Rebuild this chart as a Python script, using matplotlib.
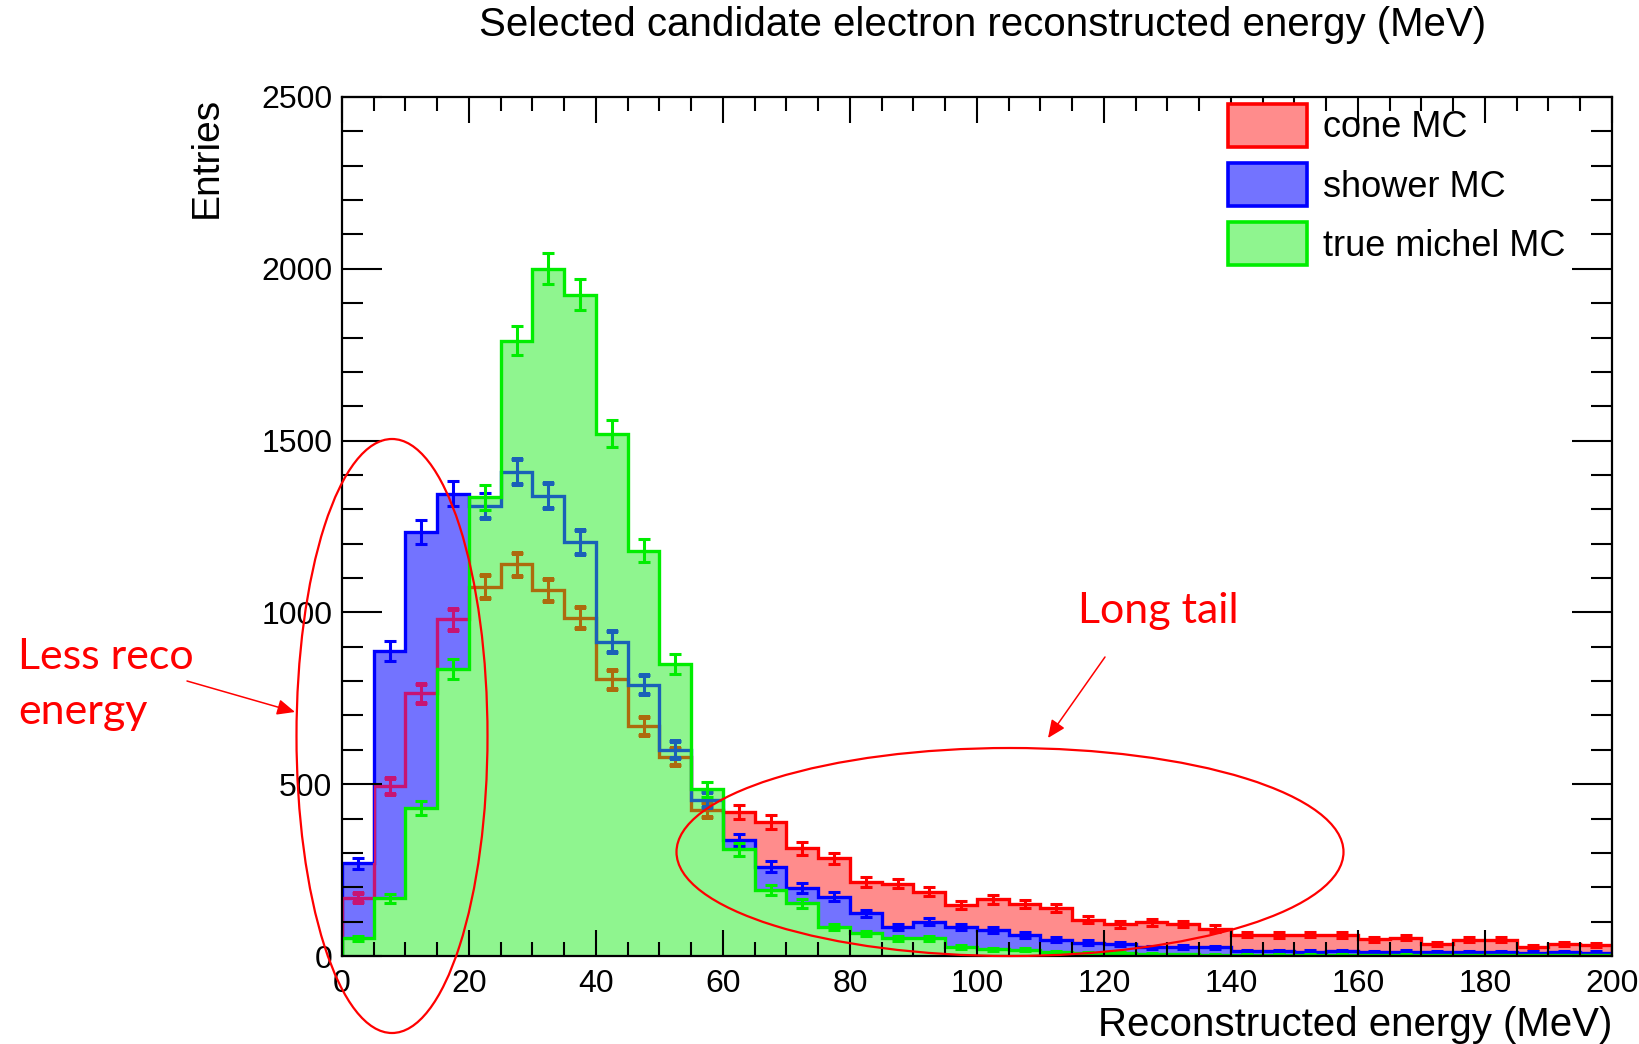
import numpy as np
import matplotlib
matplotlib.use("Agg")
import matplotlib.pyplot as plt
from matplotlib.patches import Ellipse, Patch
from matplotlib.ticker import MultipleLocator

# ---------------------------------------------------------------- data
bin_edges = np.arange(0, 205, 5)          # 40 bins of 5 MeV, 0..200 MeV

cone_mc = [170, 495, 765, 980, 1075, 1140, 1065, 985, 805, 670,
           580, 425, 420, 390, 313, 284, 216, 211, 187, 148,
           165, 151, 139, 105, 92, 98, 93, 80, 62, 61,
           62, 61, 49, 53, 34, 48, 47, 27, 36, 33]

shower_mc = [270, 888, 1235, 1345, 1310, 1410, 1340, 1205, 915, 790,
             600, 455, 338, 260, 197, 173, 124, 85, 100, 85,
             76, 61, 47, 39, 35, 25, 27, 25, 14, 15,
             13, 15, 12, 13, 11, 12, 12, 10, 11, 10]

michel_mc = [52, 168, 430, 835, 1335, 1790, 2000, 1925, 1520, 1180,
             850, 485, 310, 192, 153, 85, 66, 51, 51, 27,
             19, 18, 12, 9, 8, 6, 5, 4, 4, 3,
             3, 3, 2, 3, 2, 2, 2, 2, 2, 2]

series_labels = ["cone MC", "shower MC", "true michel MC"]

title_text = "Selected candidate electron reconstructed energy (MeV)"
x_title = "Reconstructed energy (MeV)"
y_title = "Entries"

# ---------------------------------------------------------------- style
plt.rcParams["font.family"] = ["Liberation Sans", "DejaVu Sans"]
W, H = 1640, 1044

line_colors = {"cone": (1, 0, 0), "shower": (0, 0, 1), "michel": (0, 0.93, 0)}
fill_colors = {"cone": (1.0, 0.55, 0.55), "shower": (0.45, 0.45, 1.0),
               "michel": (0.56, 0.96, 0.56)}

fig = plt.figure(figsize=(W / 100, H / 100), dpi=100)
ax = fig.add_axes([342 / W, 1 - 956 / H, 1270 / W, 859 / H])

centers = 0.5 * (bin_edges[:-1] + bin_edges[1:])
LW = 2.4


def draw_errors(vals, color, z, clip=None):
    vals = np.asarray(vals, float)
    # Poisson (statistical) uncertainty on each bin content
    eb = ax.errorbar(centers, vals, yerr=np.sqrt(vals), fmt="none",
                     ecolor=color, elinewidth=2.2, capsize=4.5,
                     capthick=2.2, zorder=z)
    if clip is not None:
        for art in list(eb.lines[1]) + list(eb.lines[2]):
            art.set_clip_path(clip)
    return eb


def draw_outline(vals, color, z, clip=None):
    ln = ax.stairs(vals, bin_edges, color=color, lw=LW, zorder=z)
    if clip is not None:
        ln.set_clip_path(clip)
    return ln


# cone MC (drawn first)
ax.stairs(cone_mc, bin_edges, fill=True, facecolor=fill_colors["cone"],
          edgecolor="none", zorder=1.0)
draw_outline(cone_mc, line_colors["cone"], 1.1)
draw_errors(cone_mc, line_colors["cone"], 1.2)

# shower MC
shower_fill = ax.stairs(shower_mc, bin_edges, fill=True,
                        facecolor=fill_colors["shower"], edgecolor="none",
                        zorder=1.3)
draw_outline(shower_mc, line_colors["shower"], 1.4)
draw_errors(shower_mc, line_colors["shower"], 1.45)
# cone outline seen through the shower pattern fill
draw_outline(cone_mc, (0.78, 0.08, 0.45), 1.5, clip=shower_fill)
draw_errors(cone_mc, (0.78, 0.08, 0.45), 1.52, clip=shower_fill)

# true michel MC (on top)
michel_fill = ax.stairs(michel_mc, bin_edges, fill=True,
                        facecolor=fill_colors["michel"], edgecolor="none",
                        zorder=1.6)
# outlines underneath, seen through the michel pattern fill
draw_outline(cone_mc, (0.68, 0.42, 0.05), 1.7, clip=michel_fill)
draw_errors(cone_mc, (0.68, 0.42, 0.05), 1.71, clip=michel_fill)
draw_outline(shower_mc, (0.1, 0.38, 0.72), 1.75, clip=michel_fill)
draw_errors(shower_mc, (0.1, 0.38, 0.72), 1.76, clip=michel_fill)
draw_outline(michel_mc, line_colors["michel"], 1.8)
draw_errors(michel_mc, line_colors["michel"], 1.85)

# ---------------------------------------------------------------- axes
ax.set_xlim(0, 200)
ax.set_ylim(0, 2500)
ax.set_axisbelow(False)
for sp in ax.spines.values():
    sp.set_linewidth(1.6)
    sp.set_zorder(3)

ax.xaxis.set_major_locator(MultipleLocator(20))
ax.xaxis.set_minor_locator(MultipleLocator(5))
ax.yaxis.set_major_locator(MultipleLocator(500))
ax.yaxis.set_minor_locator(MultipleLocator(100))
ax.tick_params(which="both", direction="in", top=True, right=True,
               width=1.5, labelsize=23)
ax.tick_params(axis="x", which="major", length=19, pad=9)
ax.tick_params(axis="x", which="minor", length=10)
ax.tick_params(axis="y", which="major", length=29, pad=7)
ax.tick_params(axis="y", which="minor", length=15)

ax.set_xlabel(x_title, fontsize=29, ha="right")
ax.xaxis.set_label_coords(1.0, -0.058)
ax.xaxis.label.set_va("top")
ax.set_ylabel(y_title, fontsize=28, ha="right")
ax.yaxis.set_label_coords(-0.092, 1.0)

fig.text(983 / W, 1 - 25 / H, title_text, ha="center", va="center",
         fontsize=29)

# ---------------------------------------------------------------- legend
handles = [Patch(facecolor=fill_colors[k], edgecolor=line_colors[k],
                 linewidth=2.6, joinstyle="round")
           for k in ("cone", "shower", "michel")]
ax.legend(handles, series_labels, loc="upper left",
          bbox_to_anchor=(1228 / W, 1 - 104 / H),
          bbox_transform=fig.transFigure, frameon=False, fontsize=26,
          borderpad=0, borderaxespad=0, handlelength=2.2,
          handleheight=1.45, labelspacing=0.45, handletextpad=0.42)

# ---------------------------------------------------------------- notes
note_font = ["Lato", "DejaVu Sans"]
red = (1, 0, 0)
fig.add_artist(Ellipse((392 / W, 1 - 736 / H), 191 / W, 594 / H,
                       transform=fig.transFigure, fill=False,
                       edgecolor=red, lw=1.6, zorder=10))
fig.add_artist(Ellipse((1010 / W, 1 - 852 / H), 667 / W, 208 / H,
                       transform=fig.transFigure, fill=False,
                       edgecolor=red, lw=1.6, zorder=10))

fig.text(18 / W, 1 - 669 / H, "Less reco", color=red, fontsize=31,
         family=note_font, ha="left", va="baseline")
fig.text(18 / W, 1 - 724 / H, "energy", color=red, fontsize=31,
         family=note_font, ha="left", va="baseline")
fig.text(1078 / W, 1 - 623 / H, "Long tail", color=red, fontsize=31,
         family=note_font, ha="left", va="baseline")

arrow_kw = dict(arrowstyle="-|>,head_length=0.45,head_width=0.2",
                color=red, lw=1.1, mutation_scale=24, shrinkA=0, shrinkB=0)
ax.annotate("", xy=(295, H - 712), xytext=(187, H - 681),
            xycoords="figure pixels", textcoords="figure pixels",
            arrowprops=arrow_kw, annotation_clip=False)
ax.annotate("", xy=(1048, H - 738), xytext=(1105, H - 657),
            xycoords="figure pixels", textcoords="figure pixels",
            arrowprops=arrow_kw, annotation_clip=False)

fig.savefig("out.png", dpi=100)
